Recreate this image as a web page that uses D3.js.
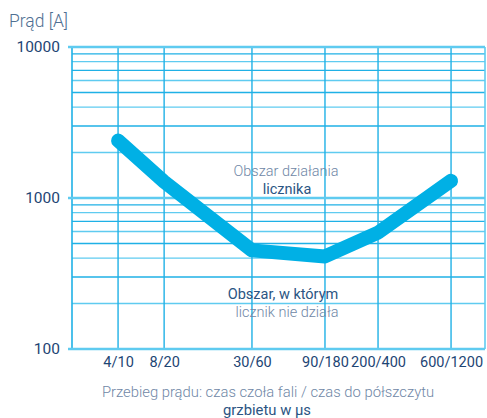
<!DOCTYPE html>
<html>
<head>
    <meta charset="utf-8">
    <script src="https://cdn.jsdelivr.net/npm/d3@7"></script>
    <style>
        body { margin: 0; background: #fff; }
        svg { display: block; }
        text { font-family: Roboto, "Liberation Sans", sans-serif; }
        .light { fill: #6f87a6; font-weight: 300; }
        .dark { fill: #2b5583; }
    </style>
</head>
<body>
    <svg width="487" height="418"></svg>

    <script>
        // values
        const categories = ["4/10", "8/20", "30/60", "90/180", "200/400", "600/1200"];
        const riseTimes = [4, 8, 30, 90, 200, 600];
        const current = [2400, 1280, 450, 410, 590, 1300];
        const yTicks = [100, 1000, 10000];

        const svg = d3.select("svg");

        const x = d3.scaleLog().domain([2, 1000]).range([72, 485]);
        const y = d3.scaleLog().domain([100, 10000]).range([349, 47]);

        const gridColor = "#1fb1e6";
        const lightGrid = "#5fcbf0";

        // horizontal grid (log minor lines)
        svg.append("g")
            .selectAll("line")
            .data(y.ticks().filter(d => yTicks.indexOf(d) < 0))
            .enter()
            .append("line")
                .attr("x1", 72)
                .attr("x2", 485)
                .attr("y1", d => y(d))
                .attr("y2", d => y(d))
                .attr("stroke", (d, i) => i % 2 ? gridColor : lightGrid)
                .attr("stroke-width", 1.4);

        // vertical grid
        svg.append("g")
            .selectAll("line")
            .data(riseTimes)
            .enter()
            .append("line")
                .attr("x1", d => x(d))
                .attr("x2", d => x(d))
                .attr("y1", 47)
                .attr("y2", 349)
                .attr("stroke", gridColor)
                .attr("stroke-width", 1.4);

        // frame: left and right edges
        svg.append("line")
            .attr("x1", 72).attr("x2", 72)
            .attr("y1", 47).attr("y2", 349)
            .attr("stroke", gridColor).attr("stroke-width", 1.6);
        svg.append("line")
            .attr("x1", 485).attr("x2", 485)
            .attr("y1", 47).attr("y2", 349)
            .attr("stroke", lightGrid).attr("stroke-width", 1.6);

        // decade lines, extended to the left as ticks
        svg.append("g")
            .selectAll("line")
            .data(yTicks)
            .enter()
            .append("line")
                .attr("x1", 68)
                .attr("x2", 485)
                .attr("y1", d => y(d))
                .attr("y2", d => y(d))
                .attr("stroke", lightGrid)
                .attr("stroke-width", 2.4);

        // y labels
        const yAxis = svg.append("g")
            .attr("transform", "translate(72,0)")
            .call(d3.axisLeft(y).tickValues(yTicks).tickSize(0).tickPadding(12).tickFormat(d3.format("d")));
        yAxis.select(".domain").remove();
        yAxis.selectAll("text")
            .attr("font-size", 15.5)
            .attr("font-family", "Roboto, sans-serif")
            .attr("fill", "#1d4574");

        // x labels
        const xAxis = svg.append("g")
            .attr("transform", "translate(0,349)")
            .call(d3.axisBottom(x).tickValues(riseTimes).tickSize(0).tickPadding(8)
                .tickFormat((d, i) => categories[i]));
        xAxis.select(".domain").remove();
        xAxis.selectAll("text")
            .attr("font-size", 14.5)
            .attr("font-family", "Roboto, sans-serif")
            .attr("fill", "#1d4574");

        // curve
        const line = d3.line()
            .x((d, i) => x(riseTimes[i]))
            .y(d => y(d));

        svg.append("path")
            .datum(current)
            .attr("d", line)
            .attr("fill", "none")
            .attr("stroke", "#00b0e5")
            .attr("stroke-width", 14)
            .attr("stroke-linecap", "round")
            .attr("stroke-linejoin", "round");

        // texts
        svg.append("text")
            .attr("class", "light")
            .attr("x", 9).attr("y", 27)
            .attr("font-size", 17.5)
            .style("fill", "#4f6f92")
            .text("Prąd [A]");

        const notes = [
            ["Obszar działania", 286, 176, "light"],
            ["licznika", 287, 194, "dark"],
            ["Obszar, w którym", 283, 299, "dark"],
            ["licznik nie działa", 287, 317, "light"],
            ["Przebieg prądu: czas czoła fali / czas do półszczytu", 268, 397, "light"],
            ["grzbietu w µs", 267, 415, "dark"]
        ];

        svg.append("g")
            .selectAll("text")
            .data(notes)
            .enter()
            .append("text")
                .attr("class", d => d[3])
                .attr("x", d => d[1])
                .attr("y", d => d[2])
                .attr("text-anchor", "middle")
                .attr("font-size", d => d[2] > 380 ? 14.8 : 14.5)
                .text(d => d[0]);
    </script>
</body>
</html>
